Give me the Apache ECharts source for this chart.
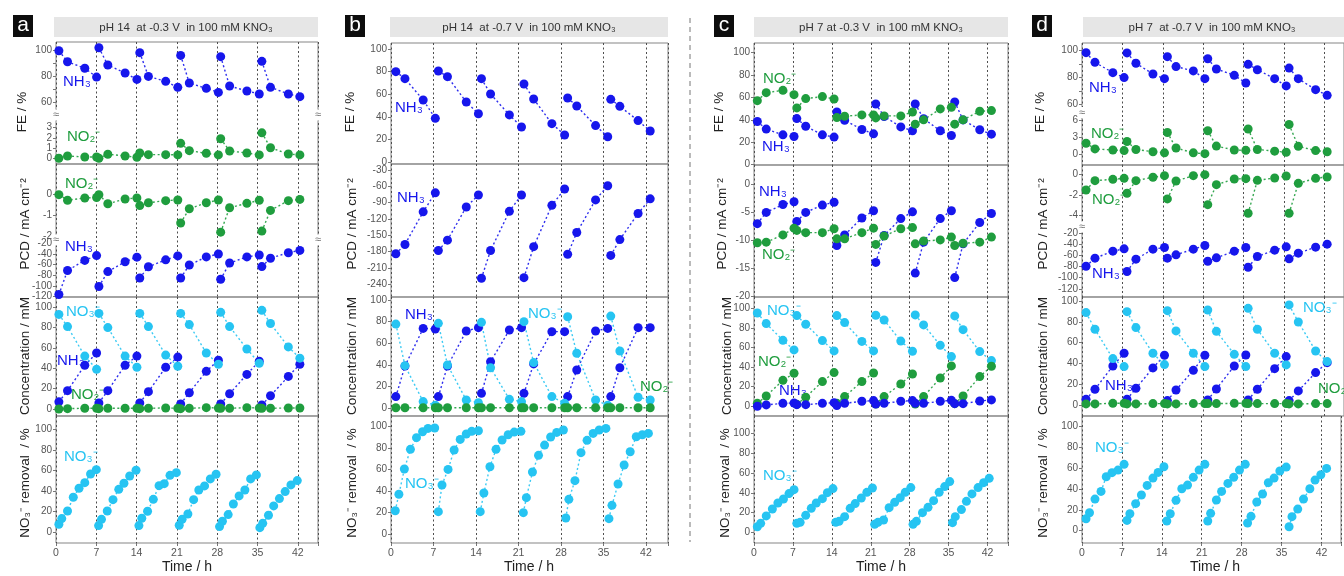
<!DOCTYPE html>
<html><head><meta charset="utf-8">
<script src="https://cdn.jsdelivr.net/npm/echarts@6/dist/echarts.min.js"></script>
<style>html,body{margin:0;padding:0;background:#fff}#c{width:1344px;height:576px}</style>
</head><body><div id="c"></div>
<script>
// ---------- tick labels ----------
const xTicks = [0, 7, 14, 21, 28, 35, 42];
const pctTicks = [0, 20, 40, 60, 80, 100];

// ---------- panel a : pH 14, -0.3 V ----------
const aT = [0.5,2.0,5.0,7.05, 7.45,9.0,12.0,14.05, 14.55,16.05,19.05,21.15, 21.65,23.15,26.1,28.2, 28.6,30.15,33.15,35.3, 35.75,37.25,40.35,42.35];
const aFE_NH3 = [99.5,91,86,79.2, 101.8,88.5,82.3,77.4, 98,79.7,75.9,71.3, 95.9,74.6,70.5,67.4, 94.9,72.3,68.5,66.2, 91.3,71.3,66.2,64.1];
const aFE_NO2 = [0,0.23,0.13,0.13, 0,0.4,0.23,0.1, 0.52,0.36,0.36,0.33, 1.47,0.75,0.49,0.33, 1.92,0.72,0.52,0.33, 2.5,1.04,0.42,0.33];
const aPCD_NO2 = [0,-0.27,-0.16,-0.14, 0,-0.44,-0.21,-0.16, -0.53,-0.39,-0.29,-0.26, -1.37,-0.68,-0.39,-0.26, -1.81,-0.63,-0.42,-0.27, -1.76,-0.76,-0.29,-0.23];
const aPCD_NH3 = [-116,-71,-52,-43, -101,-73,-54.5,-46, -85,-64,-51,-43.6, -85,-60.6,-45.5,-40, -87.3,-57,-45.5,-41.8, -63.6,-47.9,-37.6,-33.3];
const aC_NO3 = [93,81,52,39, 94,80,52,41, 94,81,53,42, 94,83,55,44, 95,81,59,45, 97,84,61,50];
const aC_NH3 = [7,18,43,55, 6,18,43,52, 6,17,41,51, 5,16,37,48, 5,15,34,47, 4,13,32,44];
const aC_NO2 = [0,0.3,0.7,0.7, 0.3,0.7,0.7,0.7, 0.3,0.7,1,0.7, 0.3,0.7,1.3,1, 0.7,0.7,1.3,1, 0.7,0.7,1,1];
const aTr = [0.5,1,2,3,4,5,6,7, 7.4,7.9,8.9,9.9,10.9,11.8,12.8,13.9, 14.4,14.9,15.9,16.9,17.9,18.8,19.8,20.9, 21.4,21.9,22.9,23.9,24.8,25.8,26.8,27.8, 28.4,28.9,29.9,30.8,31.8,32.8,33.8,34.8, 35.4,35.9,36.9,37.8,38.8,39.8,40.8,41.9];
const aR_NO3 = [7.8,13.3,20.7,34,42.7,48.2,56.6,60.8, 6.5,12.6,20.7,31.7,41.7,47.6,54.7,60.2, 6.5,13.6,20.4,32,45.3,47.2,55.3,57.9, 6.8,12.6,17.8,31.7,41.1,45,51.8,56.3, 5.5,10.7,17.2,27.5,35.3,41.1,51.8,55.7, 4.5,8.7,16.5,25.6,32.7,39.5,46,50.2];

// ---------- panel b : pH 14, -0.7 V ----------
const bT = [0.8,2.3,5.3,7.3, 7.8,9.3,12.4,14.4, 14.9,16.4,19.5,21.5, 21.9,23.5,26.5,28.6, 29.1,30.6,33.7,35.7, 36.2,37.7,40.7,42.7];
const bFE_NH3 = [80,73.8,55,38.8, 80.6,75.6,53.2,42.9, 73.8,60.3,41.8,31.2, 69.1,55.9,34.1,24.1, 56.8,49.7,32.4,22.6, 55.6,49.4,36.8,27.6];
const bPCD_NH3 = [-184,-167,-107,-72, -178,-159,-98,-76, -229,-178,-106,-76, -228,-171,-95,-65, -185,-145,-85,-59, -187,-158,-110,-83];
const bC_NH3 = [10.8,39,73.8,73.2, 10.8,39,71.4,74.5, 13.8,43,72.3,74.5, 13.8,41,70.8,70.8, 10.8,35.4,71.4,73.8, 10.8,37.5,74.5,74.5];
const bC_NO3 = [77.8,39.4,6.2,2.8, 78.5,40,7.7,5.2, 79.4,37.5,8.3,6.2, 80,42.2,10.8,4.6, 84.6,50.8,7.7,2.8, 85.2,52.9,10.2,7.7];
const bC_NO2 = [0.5,0.5,0.5,0.5, 0.5,0.5,0.5,0.5, 0.5,0.5,0.5,0.5, 0.5,0.5,0.5,0.5, 0.5,0.5,0.5,0.5, 0.5,0.5,0.5,0.5];
const bTr = [0.7,1.3,2.2,3.2,4.2,5.2,6.1,7.2, 7.8,8.4,9.4,10.4,11.4,12.4,13.3,14.4, 14.7,15.3,16.3,17.3,18.3,19.3,20.3,21.4, 21.8,22.3,23.3,24.3,25.3,26.3,27.3,28.4, 28.8,29.3,30.3,31.3,32.3,33.3,34.3,35.4, 35.9,36.4,37.4,38.4,39.4,40.4,41.4,42.4];
const bR_NO3 = [21.7,37,60.6,78.9,89.8,95.3,98.4,98.8, 20.8,45.7,60.2,78.3,88.2,93.2,95.7,96.3, 20.8,38.2,62.7,78.9,87.6,92.5,95,95.7, 19.9,33.9,57.8,73.3,82.9,90.4,94.7,96.9, 14.9,32.3,49.7,75.8,87.3,93.8,96.9,98.4, 14.3,26.7,46.6,64.3,76.7,90.7,92.5,93.8];

// ---------- panel c : pH 7, -0.3 V ----------
const cT = [0.6,2.2,5.2,7.2, 7.7,9.3,12.3,14.4, 14.9,16.3,19.4,21.5, 21.9,23.4,26.4,28.5, 29.0,30.5,33.5,35.5, 36.1,37.6,40.6,42.7];
const cFE_NH3 = [38.5,31.7,26.6,25.1, 41.1,34.3,26.6,24.6, 47,39.6,31.4,27.5, 54.1,43,33.7,30.2, 54.1,41,30.2,26, 55.9,39.9,31.1,27.2];
const cFE_NO2 = [57.1,64.2,66.3,62.4, 50.6,58.9,60.7,58.6, 42,43.2,44.4,44.4, 41.7,43.5,43.5,47, 36.1,40,49.7,51.2, 36.1,40,47.6,48.2];
const cPCD_NH3 = [-7,-5,-3.6,-3.1, -6.6,-5,-3.7,-3.2, -10.9,-9,-6,-4.7, -13.9,-9.1,-6.1,-4.9, -15.8,-10.3,-6.1,-4.7, -16.6,-10.6,-6.8,-5.2];
const cPCD_NO2 = [-10.4,-10.3,-9,-7.8, -8.2,-8.6,-8.6,-7.9, -9.7,-9.7,-8.6,-7.8, -10.7,-9.2,-7.9,-7.7, -10.6,-10.1,-9.9,-9.4, -10.9,-10.5,-10.3,-9.4];
const cC_NO3 = [95.2,84.4,67.3,57.5, 92.5,83.7,67,56.5, 92.5,85.4,66.2,56.5, 92.9,88,66.5,56.1, 93.2,83,62.2,50.7, 92.2,78.2,55.8,46.6];
const cC_NH3 = [0,1.4,3,3.4, 1.7,1.7,3,3.7, 0.7,3,5.1,5.8, 2.4,3,5.1,5.8, 3,3,5.1,6.1, 2.7,2.7,5.4,6.5];
const cC_NO2 = [3,10.5,26.5,33.7, 2,9.2,25.2,34.4, 3,9.9,25.2,34, 2.4,9.9,22.8,33, 2.4,9.9,28.9,41.2, 2.7,10.5,30.3,40.8];
const cTr = [0.6,1.2,2.2,3.3,4.3,5.3,6.3,7.2, 7.7,8.3,9.3,10.3,11.2,12.3,13.2,14.2, 14.7,15.3,16.3,17.3,18.2,19.3,20.3,21.3, 21.7,22.3,23.3,24.3,25.3,26.3,27.2,28.2, 28.6,29.2,30.3,31.3,32.3,33.3,34.3,35.2, 35.7,36.2,37.3,38.2,39.2,40.3,41.3,42.3];
const cR_NO3 = [5.7,9.1,16.6,23.6,29.7,33.8,39.2,43.2, 9.1,10.1,17.2,24.3,29.7,34.1,40.2,44.3, 10.1,11.1,15.9,24.3,29.1,34.8,40.5,44.9, 8.1,10.1,12.5,25,30.4,35.1,40.5,45.3, 8.1,11.1,19.9,25.3,32.1,40.5,46.3,51.4, 9.8,15.9,23,31.4,38.9,45.3,50.3,54.7];

// ---------- panel d : pH 7, -0.7 V ----------
const dT = [0.7,2.25,5.35,7.3, 7.8,9.35,12.3,14.3, 14.8,16.3,19.3,21.3, 21.8,23.3,26.4,28.4, 28.8,30.4,33.4,35.4, 35.9,37.5,40.5,42.5];
const dFE_NH3 = [98.5,91.3,83.6,79.9, 98.3,90.6,82.6,79.1, 95.5,88.1,84.9,79.1, 94,86.3,81.6,75.9, 89.8,85.8,79.1,73.7, 87,79.1,70.9,66.7];
const dFE_NO2 = [1.9,0.9,0.7,0.6, 2.2,0.8,0.4,0.2, 3.8,1.06,0.2,0.06, 4.1,1.4,0.7,0.65, 4.4,0.8,0.5,0.3, 5.2,1.35,0.6,0.4];
const dPCD_NO2 = [-1.53,-0.62,-0.49,-0.39, -1.85,-0.62,-0.29,-0.13, -2.4,-0.65,-0.13,-0.03, -2.96,-1.01,-0.46,-0.42, -3.8,-0.59,-0.36,-0.16, -3.8,-0.88,-0.39,-0.26];
const dPCD_NH3 = [-79.4,-65,-52.4,-48.2, -89,-66.8,-48.8,-45.8, -65,-59,-48.8,-42.2, -70.4,-64.4,-52.4,-45.8, -81.2,-62,-50.6,-44.6, -66.2,-56,-45.2,-39.8];
const dC_NO3 = [88.8,72.8,44.6,36.9, 89.7,74.4,49.7,38.8, 90.7,71.2,49.7,36.9, 91.3,70.8,48.7,36.9, 92.9,72.8,49.7,38.5, 96.2,79.8,51.9,41.7];
const dC_NH3 = [5.4,15.1,37.5,49.7, 5.4,16,35.6,47.8, 4.2,14.4,33.3,47.8, 4.8,15.4,37.5,48, 4.8,15.1,34.9,46.5, 4.2,13.5,31.1,40.7];
const dC_NO2 = [1,1,1.6,1.6, 1,1,1.3,1.3, 1,1,1.3,1.3, 1.3,1.3,1.6,1.6, 1.3,1.3,1.3,1.3, 1,1,1.3,1.3];
const dTr = [0.7,1.3,2.25,3.3,4.2,5.2,6.25,7.3, 7.8,8.3,9.3,10.3,11.3,12.3,13.2,14.2, 14.7,15.3,16.3,17.3,18.3,19.3,20.3,21.3, 21.8,22.3,23.3,24.2,25.3,26.3,27.3,28.3, 28.7,29.3,30.3,31.3,32.3,33.3,34.3,35.4, 35.9,36.4,37.4,38.4,39.5,40.4,41.4,42.4];
const dR_NO3 = [11.5,17.3,30.4,37.8,51.9,55.8,58.3,63.8, 9.9,16.3,26,34.3,43.6,50.6,56.1,61.5, 9.3,16.3,29.2,40.4,43.9,51.3,58.3,63.8, 9.3,16.7,29.5,37.8,45.5,51.3,58.3,63.8, 7.4,13.8,27.6,35.3,46.2,50.6,57.4,61.2, 3.8,13.5,20.8,30.4,40.4,48.7,53.8,59.9];

// ---------- styling / layout ----------
const C_NH3 = '#1616ec', C_NO2 = '#1f9d3e', C_NO3 = '#26c4f2';
const FONT = '"Liberation Sans", Arial, Helvetica, sans-serif';
const PA = {left: 56, width: 262, xmax: 45.5};
const PB = {left: 391, width: 277, xmax: 45.63};
const PC = {left: 754, width: 254, xmax: 45.68};
const PD = {left: 1082, width: 268, xmax: 45.42};

const grids = [], xAxes = [], yAxes = [], series = [], gfx = [];

function frame(P, top, bottom, isBottom) {
  const i = grids.length;
  grids.push({left: P.left, top: top, width: P.width, height: bottom - top, show: true,
    borderColor: '#858585', borderWidth: 1, backgroundColor: 'rgba(0,0,0,0)'});
  xAxes.push({gridIndex: i, type: 'value', min: 0, max: P.xmax, interval: 7,
    axisLine: {show: false},
    axisTick: {show: isBottom, length: 3, lineStyle: {color: '#777'}},
    axisLabel: {show: isBottom, fontSize: 10.5, color: '#555', fontFamily: FONT, margin: 5,
      formatter: v => (xTicks.indexOf(v) >= 0 ? String(v) : '')},
    splitLine: {show: true, lineStyle: {color: '#4d4d4d', width: 1, type: [2, 2.5]}}});
  yAxes.push({gridIndex: i, type: 'value', min: 0, max: 1, show: false});
}
function sub(P, top, bottom, min, max, labels, ticks) {
  const i = grids.length;
  grids.push({left: P.left, top: top, width: P.width, height: bottom - top, show: false});
  xAxes.push({gridIndex: i, type: 'value', min: 0, max: P.xmax, show: false});
  yAxes.push({gridIndex: i, type: 'value', min: min, max: max,
    axisLine: {show: false}, splitLine: {show: false},
    axisTick: {show: true, length: 3, customValues: ticks || labels, lineStyle: {color: '#777'}},
    axisLabel: {customValues: labels, fontSize: 10, color: '#555', fontFamily: FONT, margin: 4}});
  return i;
}
function line(gi, times, vals, color, per) {
  const data = [];
  for (let k = 0; k < times.length; k++) {
    if (per && k > 0 && k % per === 0) data.push(['-', '-']);
    data.push([times[k], vals[k]]);
  }
  series.push({type: 'line', xAxisIndex: gi, yAxisIndex: gi, data: data, symbol: 'circle', symbolSize: 9,
    itemStyle: {color: color}, lineStyle: {color: color, width: 1.4, type: [2, 2.5], opacity: 0.9},
    connectNulls: false, clip: false, animation: false, silent: true});
}
function label(x, y, text, color) {
  gfx.push({type: 'text', x: x, y: y, z: 1, style: {text: text, fill: color, fontSize: 15, fontFamily: FONT, align: 'left', verticalAlign: 'middle'}});
}
function ytitle(x, y, text) {
  gfx.push({type: 'text', x: x, y: y, rotation: Math.PI / 2, style: {text: text, fill: '#222', fontSize: 13.5, fontFamily: FONT, align: 'center', verticalAlign: 'middle'}});
}
function header(x, w, cx, text) {
  gfx.push({type: 'rect', shape: {x: x, y: 17, width: w, height: 20}, style: {fill: '#e6e6e6'}});
  gfx.push({type: 'text', x: cx, y: 27.5, style: {text: text, fill: '#333', fontSize: 11.5, fontFamily: FONT, align: 'center', verticalAlign: 'middle'}});
}
function letter(x, ch) {
  gfx.push({type: 'rect', shape: {x: x, y: 15, width: 20, height: 22}, style: {fill: '#0d0d0d'}});
  gfx.push({type: 'text', x: x + 10, y: 25.5, style: {text: ch, fill: '#fff', fontSize: 21, fontFamily: FONT, align: 'center', verticalAlign: 'middle'}});
}
function brk(x, y) {
  gfx.push({type: 'text', x: x, y: y, z: 5, style: {text: '≈', fill: '#777', fontSize: 11, fontFamily: FONT, align: 'center', verticalAlign: 'middle', backgroundColor: '#fff'}});
}
function time(cx) {
  gfx.push({type: 'text', x: cx, y: 567, style: {text: 'Time / h', fill: '#222', fontSize: 14, fontFamily: FONT, align: 'center', verticalAlign: 'middle'}});
}

// ===== panel a =====
frame(PA, 42, 164, false);
let g = sub(PA, 42, 115, 50, 106.2, [60, 80, 100], [60, 70, 80, 90, 100]);
line(g, aT, aFE_NH3, C_NH3, 4);
g = sub(PA, 115, 164, -0.56, 4.25, [0, 1, 2, 3]);
line(g, aT, aFE_NO2, C_NO2, 4);
frame(PA, 164, 297, false);
g = sub(PA, 164, 240, -2.19, 1.48, [0, -1, -2]);
line(g, aT, aPCD_NO2, C_NO2, 4);
g = sub(PA, 240, 297, -120.6, -13.8, [-20, -40, -60, -80, -100, -120]);
line(g, aT, aPCD_NH3, C_NH3, 4);
frame(PA, 297, 416, false);
g = sub(PA, 297, 416, -6.9, 110.1, pctTicks);
line(g, aT, aC_NH3, C_NH3, 4); line(g, aT, aC_NO3, C_NO3, 4); line(g, aT, aC_NO2, C_NO2, 0);
frame(PA, 416, 543, true);
g = sub(PA, 416, 543, -10.4, 112.9, pctTicks);
line(g, aTr, aR_NO3, C_NO3, 8);

// ===== panel b =====
frame(PB, 43, 164, false);
g = sub(PB, 43, 164, -1.5, 105.3, pctTicks);
line(g, bT, bFE_NH3, C_NH3, 4);
frame(PB, 164, 297, false);
g = sub(PB, 164, 297, -263.5, -19, [-30, -60, -90, -120, -150, -180, -210, -240]);
line(g, bT, bPCD_NH3, C_NH3, 4);
frame(PB, 297, 416, false);
g = sub(PB, 297, 416, -7.1, 102.8, pctTicks);
line(g, bT, bC_NH3, C_NH3, 4); line(g, bT, bC_NO3, C_NO3, 4); line(g, bT, bC_NO2, C_NO2, 0);
frame(PB, 416, 543, true);
g = sub(PB, 416, 543, -8.4, 110, pctTicks);
line(g, bTr, bR_NO3, C_NO3, 8);

// ===== panel c =====
frame(PC, 43, 165, false);
g = sub(PC, 43, 165, -0.3, 108.5, pctTicks);
line(g, cT, cFE_NH3, C_NH3, 4); line(g, cT, cFE_NO2, C_NO2, 4);
frame(PC, 165, 297, false);
g = sub(PC, 165, 297, -20.06, 3.44, [0, -5, -10, -15, -20]);
line(g, cT, cPCD_NH3, C_NH3, 4); line(g, cT, cPCD_NO2, C_NO2, 4);
frame(PC, 297, 416, false);
g = sub(PC, 297, 416, -9.9, 111.5, pctTicks);
line(g, cT, cC_NO3, C_NO3, 4); line(g, cT, cC_NO2, C_NO2, 4); line(g, cT, cC_NH3, C_NH3, 0);
frame(PC, 416, 543, true);
g = sub(PC, 416, 543, -10.8, 117.8, pctTicks);
line(g, cTr, cR_NO3, C_NO3, 8);

// ===== panel d =====
frame(PD, 43, 165, false);
g = sub(PD, 43, 112.5, 53.9, 105.7, [60, 80, 100], [60, 70, 80, 90, 100]);
line(g, dT, dFE_NH3, C_NH3, 4);
g = sub(PD, 112.5, 165, -1.94, 7.32, [0, 3, 6]);
line(g, dT, dFE_NO2, C_NO2, 4);
frame(PD, 165, 297, false);
g = sub(PD, 165, 227, -5.14, 0.91, [0, -2, -4]);
line(g, dT, dPCD_NO2, C_NO2, 4);
g = sub(PD, 227, 297, -134.8, -8.9, [-20, -40, -60, -80, -100, -120]);
line(g, dT, dPCD_NH3, C_NH3, 4);
frame(PD, 297, 416, false);
g = sub(PD, 297, 416, -10.6, 103.8, pctTicks);
line(g, dT, dC_NH3, C_NH3, 4); line(g, dT, dC_NO3, C_NO3, 4); line(g, dT, dC_NO2, C_NO2, 0);
frame(PD, 416, 543, true);
g = sub(PD, 416, 543, -11.8, 110.3, pctTicks);
line(g, dTr, dR_NO3, C_NO3, 8);

// ===== decorations =====
header(54, 264, 186, 'pH 14  at -0.3 V  in 100 mM KNO₃');
header(390, 278, 529, 'pH 14  at -0.7 V  in 100 mM KNO₃');
header(754, 254, 881, 'pH 7 at -0.3 V  in 100 mM KNO₃');
header(1083, 270, 1212, 'pH 7  at -0.7 V  in 100 mM KNO₃');
letter(13, 'a'); letter(345, 'b'); letter(714, 'c'); letter(1032, 'd');
gfx.push({type: 'line', shape: {x1: 690, y1: 18, x2: 690, y2: 542}, style: {stroke: '#777', lineWidth: 1, lineDash: [5, 4]}});
brk(56, 115); brk(318, 115); brk(56, 240); brk(318, 240);
brk(1082, 112.5); brk(1082, 227);

const titles = ['FE / %', 'PCD / mA cm⁻²', 'Concentration / mM', 'NO₃⁻ removal  / %'];
const tY = [112, 224, 356, 483];
[[22, 25, 25, 25], [350, 352, 352, 352], [719, 722, 727, 725], [1040, 1043, 1043, 1043]].forEach(xs => {
  xs.forEach((x, k) => ytitle(x, tY[k], titles[k]));
});
time(187); time(529); time(881); time(1215);

// series labels
label(63, 82, 'NH₃', C_NH3); label(67, 137, 'NO₂⁻', C_NO2);
label(65, 184, 'NO₂⁻', C_NO2); label(65, 247, 'NH₃', C_NH3);
label(66, 312, 'NO₃⁻', C_NO3); label(57, 361, 'NH₃', C_NH3); label(71, 395, 'NO₂⁻', C_NO2);
label(64, 457, 'NO₃⁻', C_NO3);

label(395, 108, 'NH₃', C_NH3); label(397, 198, 'NH₃', C_NH3);
label(405, 315, 'NH₃', C_NH3); label(528, 314, 'NO₃⁻', C_NO3); label(640, 387, 'NO₂⁻', C_NO2);
label(405, 484, 'NO₃⁻', C_NO3);

label(763, 79, 'NO₂⁻', C_NO2); label(762, 147, 'NH₃', C_NH3);
label(759, 192, 'NH₃', C_NH3); label(762, 255, 'NO₂⁻', C_NO2);
label(767, 311, 'NO₃⁻', C_NO3); label(758, 362, 'NO₂⁻', C_NO2); label(779, 391, 'NH₃', C_NH3);
label(763, 476, 'NO₃⁻', C_NO3);

label(1089, 88, 'NH₃', C_NH3); label(1091, 134, 'NO₂⁻', C_NO2);
label(1092, 200, 'NO₂⁻', C_NO2); label(1092, 274, 'NH₃', C_NH3);
label(1303, 308, 'NO₃⁻', C_NO3); label(1105, 386, 'NH₃', C_NH3); label(1318, 389, 'NO₂⁻', C_NO2);
label(1095, 448, 'NO₃⁻', C_NO3);

const chart = echarts.init(document.getElementById('c'), null, {renderer: 'canvas'});
chart.setOption({
  animation: false,
  backgroundColor: '#fff',
  textStyle: {fontFamily: FONT},
  grid: grids, xAxis: xAxes, yAxis: yAxes, series: series,
  graphic: {elements: gfx}
});
</script></body></html>
